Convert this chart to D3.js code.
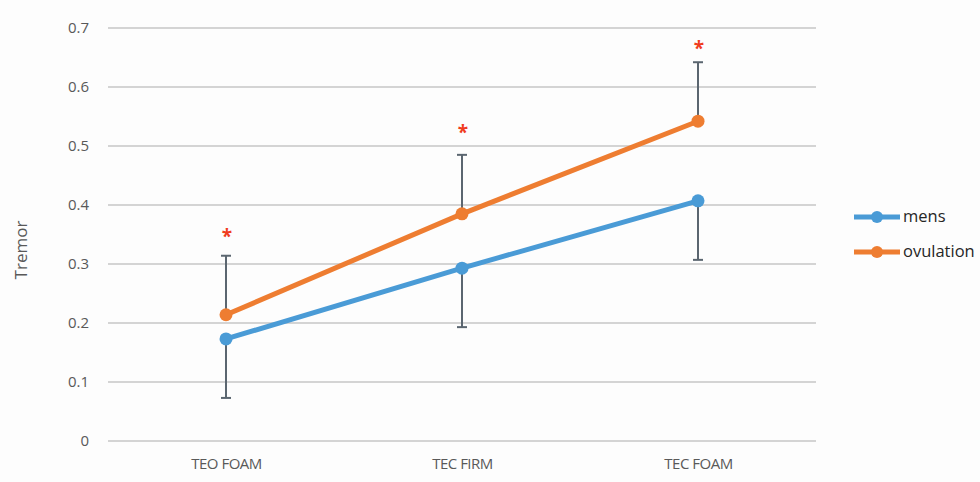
<!DOCTYPE html>
<html>
<head>
<meta charset="utf-8">
<script src="https://cdn.jsdelivr.net/npm/d3@7"></script>
<style>
  body { margin: 0; background: #fdfdfd; }
  text { font-family: "Open Sans", "Noto Sans", sans-serif; }
</style>
</head>
<body>
<svg id="chart" width="980" height="482"></svg>
<script>
// chart data
var categories = ["TEO FOAM", "TEC FIRM", "TEC FOAM"];
var mensValues = [0.173, 0.293, 0.407];
var ovulationValues = [0.214, 0.385, 0.542];
var errorSize = [0.1, 0.1, 0.1];
var starValues = [0.353, 0.529, 0.671];
var yTicks = [0, 0.1, 0.2, 0.3, 0.4, 0.5, 0.6, 0.7];

var svg = d3.select("#chart");

var margin = { top: 28, right: 164, bottom: 41, left: 108 },
  width = 980 - margin.left - margin.right,
  height = 482 - margin.top - margin.bottom;

var g = svg.append("g")
  .attr("transform", "translate(" + margin.left + "," + margin.top + ")");

var xScale = d3.scalePoint().domain(categories).range([0, width]).padding(0.5);
var yScale = d3.scaleLinear().domain([0, 0.7]).range([height, 0]);

// gridlines
g.selectAll(".grid")
  .data(yTicks)
  .enter()
  .append("line")
  .attr("x1", 0)
  .attr("x2", width)
  .attr("y1", d => yScale(d))
  .attr("y2", d => yScale(d))
  .attr("stroke", "#d4d4d4")
  .attr("stroke-width", 2);

// y axis
var yAxis = g.append("g")
  .call(d3.axisLeft(yScale).tickValues(yTicks).tickSize(0).tickPadding(19)
    .tickFormat(d => d === 0 ? "0" : d3.format(".1f")(d)));
yAxis.select(".domain").remove();
yAxis.selectAll(".tick text")
  .attr("fill", "#595959")
  .style("font-size", "15px");

// x axis
var xAxis = g.append("g")
  .attr("transform", "translate(0," + height + ")")
  .call(d3.axisBottom(xScale).tickSize(0).tickPadding(17));
xAxis.select(".domain").remove();
xAxis.selectAll(".tick text")
  .attr("fill", "#595959")
  .style("font-size", "15px")
  .attr("letter-spacing", "-0.5px");

// axis title
svg.append("text")
  .attr("transform", "translate(27,250) rotate(-90)")
  .attr("text-anchor", "middle")
  .attr("fill", "#595959")
  .style("font-size", "17px")
  .text("Tremor");

// error bars
function errorBar(values, dir) {
  var eb = g.append("g");
  categories.forEach(function (c, i) {
    var x = xScale(c);
    var y0 = yScale(values[i]);
    var y1 = yScale(values[i] + dir * errorSize[i]);
    eb.append("line").attr("x1", x).attr("x2", x).attr("y1", y0).attr("y2", y1)
      .attr("stroke", "#5b6670").attr("stroke-width", 2);
    eb.append("line").attr("x1", x - 5).attr("x2", x + 5).attr("y1", y1).attr("y2", y1)
      .attr("stroke", "#5b6670").attr("stroke-width", 2);
  });
}
errorBar(mensValues, -1);
errorBar(ovulationValues, 1);

// series lines
var series = [
  { name: "mens", values: mensValues, color: "#4a9bd6" },
  { name: "ovulation", values: ovulationValues, color: "#ee7d31" }
];

var line = d3.line()
  .x((d, i) => xScale(categories[i]))
  .y(d => yScale(d));

series.forEach(function (s) {
  g.append("path")
    .datum(s.values)
    .attr("fill", "none")
    .attr("stroke", s.color)
    .attr("stroke-width", 5)
    .attr("d", line);
  g.selectAll(".pt-" + s.name)
    .data(s.values)
    .enter()
    .append("circle")
    .attr("cx", (d, i) => xScale(categories[i]))
    .attr("cy", d => yScale(d))
    .attr("r", 6.5)
    .attr("fill", s.color);
});

// significance stars
g.selectAll(".star")
  .data(starValues)
  .enter()
  .append("text")
  .attr("x", (d, i) => xScale(categories[i]) + 1)
  .attr("y", d => yScale(d) + 10)
  .attr("text-anchor", "middle")
  .attr("fill", "#f03c1e")
  .style("font-size", "19px")
  .style("font-weight", "bold")
  .text("*");

// legend
var legend = svg.append("g").attr("transform", "translate(854,217)");
series.forEach(function (s, i) {
  var row = legend.append("g").attr("transform", "translate(0," + i * 35 + ")");
  row.append("line").attr("x1", 0).attr("x2", 46).attr("y1", 0).attr("y2", 0)
    .attr("stroke", s.color).attr("stroke-width", 5);
  row.append("circle").attr("cx", 23).attr("cy", 0).attr("r", 6).attr("fill", s.color);
  row.append("text").attr("x", 49).attr("y", 5)
    .attr("fill", "#262626")
    .style("font-size", "16.5px")
    .text(s.name);
});
</script>
</body>
</html>
